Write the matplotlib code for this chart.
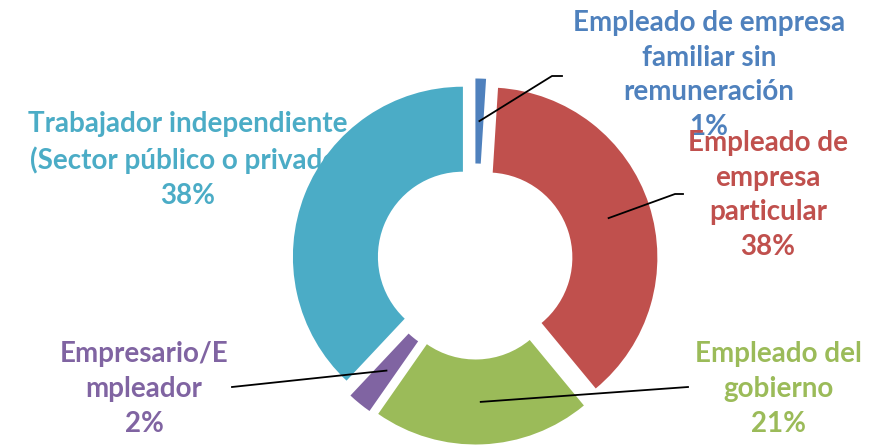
import numpy as np
import matplotlib.pyplot as plt

# Datos del gráfico (porcentajes por categoría ocupacional)
categorias = ['Empleado de empresa\nfamiliar sin\nremuneración',
              'Empleado de\nempresa\nparticular',
              'Empleado del\ngobierno',
              'Empresario/E\nmpleador',
              'Trabajador independiente\n(Sector público o privado)']
valores = [1.0, 38.0, 20.7, 2.3, 38.0]
colores = ['#4F81BD', '#C0504D', '#9BBB59', '#8064A2', '#4BACC6']

# posiciones de etiquetas (pixeles, y desde arriba) y codos de las líneas guía
pos_etiq = [(709, 75), (768, 195), (778, 389), (144, 389), (188, 160)]
guias = [[(552, 76), (562, 76)],
         [(675, 194), (683, 194)],
         [(688, 387)],
         [(232, 387)],
         None]

W, H = 869, 446
fig = plt.figure(figsize=(W / 100, H / 100), dpi=100)
ax = fig.add_axes([0, 0, 1, 1])

cx, cy = 475, H - 261.5
R, r = 170, 85
d = 13
wedges, _ = ax.pie(valores, colors=colores, startangle=90, counterclock=False,
                   radius=R, center=(cx, cy), explode=[d] * len(valores),
                   wedgeprops=dict(width=R - r, edgecolor='none'))
ax.set_xlim(0, W)
ax.set_ylim(0, H)
ax.set_aspect('equal')
ax.axis('off')

fuente = ['Lato', 'DejaVu Sans']
for i, (w, cat, v) in enumerate(zip(wedges, categorias, valores)):
    x, y = pos_etiq[i]
    z = 0.5 if i == 4 else 3 + i
    ax.text(x, H - y, cat + '\n' + f'{round(v)}%', ha='center', va='center',
            color=colores[i], fontsize=20, fontweight='bold', family=fuente,
            linespacing=1.42, zorder=z)
    if guias[i] is None:
        continue
    ang = np.deg2rad((w.theta1 + w.theta2) / 2)
    rm = w.r - w.width / 2
    px = [w.center[0] + rm * np.cos(ang)]
    py = [w.center[1] + rm * np.sin(ang)]
    for gx, gy in guias[i]:
        px.append(gx)
        py.append(H - gy)
    ax.plot(px, py, color='black', lw=1.3, zorder=10)

fig.savefig('out.png', dpi=100)
